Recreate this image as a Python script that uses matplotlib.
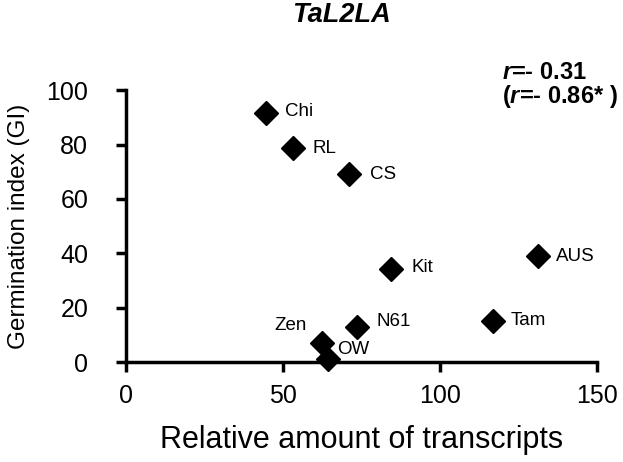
import matplotlib
matplotlib.use("Agg")
import matplotlib.pyplot as plt

plt.rcParams['font.family'] = ['Liberation Sans', 'DejaVu Sans']
plt.rcParams['mathtext.fontset'] = 'custom'
plt.rcParams['mathtext.bfit'] = 'Liberation Sans:italic:bold'

cultivars = ["Chi", "RL", "CS", "Kit", "AUS", "Tam", "N61", "Zen", "OW"]
transcripts = [44.6, 53.2, 71.0, 84.4, 131.2, 116.9, 73.6, 62.4, 64.3]
gi = [91.5, 78.7, 69.0, 34.2, 39.0, 15.0, 12.9, 7.0, 1.0]

# label offsets in points (dx, dy, ha)
offsets = {"Chi": (14, 1, "left"), "RL": (14, 0, "left"), "CS": (15, 0, "left"),
           "Kit": (15, 1, "left"), "AUS": (13, 0, "left"), "Tam": (13, 1, "left"),
           "N61": (14, 4, "left"), "Zen": (-11, 13, "right"), "OW": (7, 7, "left")}

fig = plt.figure(figsize=(6.23, 4.62), dpi=100)
ax = fig.add_axes([0.202, 0.216, 0.756, 0.589])

ax.plot(transcripts, gi, linestyle="none", marker="D", markersize=12,
        color="black", clip_on=False, zorder=3)
for name, x, y in zip(cultivars, transcripts, gi):
    dx, dy, ha = offsets[name]
    ax.annotate(name, (x, y), xytext=(dx, dy), textcoords="offset points",
                fontsize=13.5, va="center", ha=ha)

ax.set_xlim(0, 150)
ax.set_ylim(0, 100)
ax.set_xticks([0, 50, 100, 150])
ax.set_yticks([0, 20, 40, 60, 80, 100])
ax.spines["top"].set_visible(False)
ax.spines["right"].set_visible(False)
for s in ["left", "bottom"]:
    ax.spines[s].set_linewidth(2.5)
ax.tick_params(width=2.5, length=7, labelsize=18)
ax.tick_params(axis="x", pad=9)
ax.tick_params(axis="y", pad=20)
ax.set_xlabel("Relative amount of transcripts", fontsize=22, labelpad=12)
ax.set_ylabel("Germination index (GI)", fontsize=17.5, labelpad=12)

fig.text(0.548, 0.968, "TaL2LA", fontsize=19.5, fontweight="bold", style="italic",
         ha="center", va="center")
fig.text(0.806, 0.777, "$\\mathbfit{r}$=- 0.31\n($\\mathbfit{r}$=- 0.86* )",
         fontsize=17, fontweight="bold", linespacing=0.95, va="baseline")

fig.savefig("out.png", dpi=100)
